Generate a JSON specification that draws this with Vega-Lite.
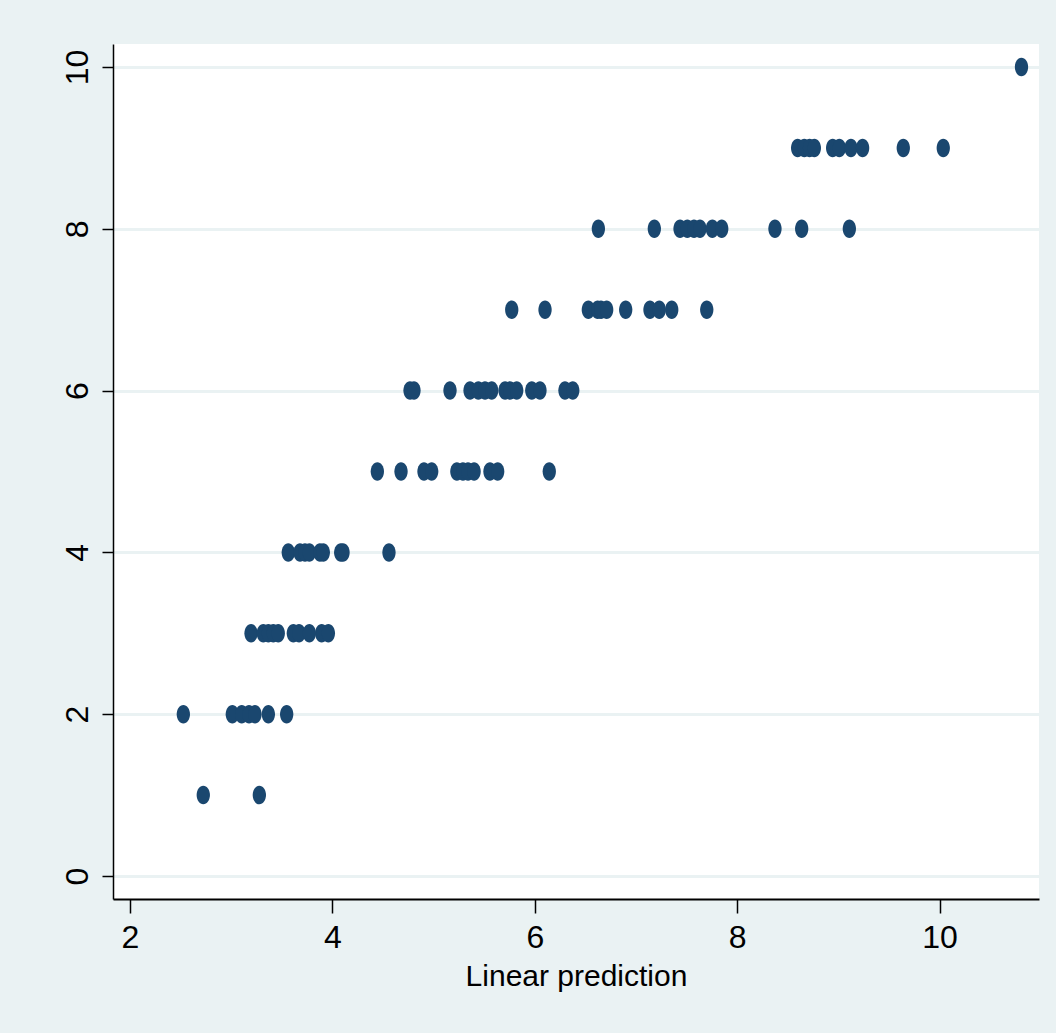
{
  "$schema": "https://vega.github.io/schema/vega-lite/v6.json",
  "autosize": {"type": "none"},
  "width": 926,
  "height": 855,
  "padding": {"left": 113, "top": 44, "right": 17, "bottom": 134},
  "background": "#EAF2F3",
  "config": {
    "view": {"fill": "#FFFFFF", "stroke": null}
  },
  "data": {
    "values": [
      {"x": 2.724, "y": 1}, {"x": 3.278, "y": 1},
      {"x": 2.527, "y": 2}, {"x": 3.011, "y": 2}, {"x": 3.104, "y": 2}, {"x": 3.176, "y": 2}, {"x": 3.235, "y": 2}, {"x": 3.367, "y": 2}, {"x": 3.548, "y": 2},
      {"x": 3.196, "y": 3}, {"x": 3.317, "y": 3}, {"x": 3.367, "y": 3}, {"x": 3.416, "y": 3}, {"x": 3.465, "y": 3}, {"x": 3.614, "y": 3}, {"x": 3.670, "y": 3}, {"x": 3.772, "y": 3}, {"x": 3.894, "y": 3}, {"x": 3.960, "y": 3},
      {"x": 3.564, "y": 4}, {"x": 3.680, "y": 4}, {"x": 3.729, "y": 4}, {"x": 3.772, "y": 4}, {"x": 3.877, "y": 4}, {"x": 3.910, "y": 4}, {"x": 4.082, "y": 4}, {"x": 4.105, "y": 4}, {"x": 4.559, "y": 4},
      {"x": 4.444, "y": 5}, {"x": 4.678, "y": 5}, {"x": 4.905, "y": 5}, {"x": 4.981, "y": 5}, {"x": 5.230, "y": 5}, {"x": 5.290, "y": 5}, {"x": 5.340, "y": 5}, {"x": 5.400, "y": 5}, {"x": 5.557, "y": 5}, {"x": 5.633, "y": 5}, {"x": 6.143, "y": 5},
      {"x": 4.767, "y": 6}, {"x": 4.806, "y": 6}, {"x": 5.162, "y": 6}, {"x": 5.360, "y": 6}, {"x": 5.442, "y": 6}, {"x": 5.508, "y": 6}, {"x": 5.574, "y": 6}, {"x": 5.706, "y": 6}, {"x": 5.755, "y": 6}, {"x": 5.821, "y": 6}, {"x": 5.970, "y": 6}, {"x": 6.051, "y": 6}, {"x": 6.298, "y": 6}, {"x": 6.375, "y": 6},
      {"x": 5.772, "y": 7}, {"x": 6.101, "y": 7}, {"x": 6.529, "y": 7}, {"x": 6.621, "y": 7}, {"x": 6.654, "y": 7}, {"x": 6.710, "y": 7}, {"x": 6.898, "y": 7}, {"x": 7.138, "y": 7}, {"x": 7.230, "y": 7}, {"x": 7.353, "y": 7}, {"x": 7.699, "y": 7},
      {"x": 6.628, "y": 8}, {"x": 7.181, "y": 8}, {"x": 7.435, "y": 8}, {"x": 7.507, "y": 8}, {"x": 7.573, "y": 8}, {"x": 7.632, "y": 8}, {"x": 7.754, "y": 8}, {"x": 7.847, "y": 8}, {"x": 8.373, "y": 8}, {"x": 8.637, "y": 8}, {"x": 9.108, "y": 8},
      {"x": 8.597, "y": 9}, {"x": 8.663, "y": 9}, {"x": 8.715, "y": 9}, {"x": 8.762, "y": 9}, {"x": 8.943, "y": 9}, {"x": 9.009, "y": 9}, {"x": 9.124, "y": 9}, {"x": 9.239, "y": 9}, {"x": 9.641, "y": 9}, {"x": 10.036, "y": 9},
      {"x": 10.809, "y": 10}
    ]
  },
  "mark": {
    "type": "point",
    "filled": true,
    "opacity": 1,
    "color": "#1A476F",
    "size": 342,
    "shape": "M-0.72,0A0.72,1,0,1,0,0.72,0A0.72,1,0,1,0,-0.72,0Z"
  },
  "encoding": {
    "x": {
      "field": "x",
      "type": "quantitative",
      "scale": {"domain": [1.832, 10.982], "nice": false, "zero": false},
      "axis": {
        "title": "Linear prediction",
        "values": [2, 4, 6, 8, 10],
        "grid": false,
        "domainColor": "#000000",
        "domainWidth": 2,
        "tickColor": "#000000",
        "tickWidth": 1.5,
        "tickSize": 14,
        "labelFont": "Liberation Sans, Arial, sans-serif",
        "labelFontSize": 32,
        "labelColor": "#000000",
        "labelPadding": 9,
        "titleFont": "Liberation Sans, Arial, sans-serif",
        "titleFontSize": 30,
        "titleFontWeight": "normal",
        "titleColor": "#000000",
        "titlePadding": 8
      }
    },
    "y": {
      "field": "y",
      "type": "quantitative",
      "scale": {"domain": [-0.284, 10.284], "nice": false, "zero": false},
      "axis": {
        "title": null,
        "values": [0, 2, 4, 6, 8, 10],
        "grid": true,
        "gridColor": "#EAF2F3",
        "gridWidth": 3,
        "domainColor": "#000000",
        "domainWidth": 1.5,
        "tickColor": "#000000",
        "tickWidth": 1.5,
        "tickSize": 11,
        "labelAngle": -90,
        "labelFont": "Liberation Sans, Arial, sans-serif",
        "labelFontSize": 32,
        "labelColor": "#000000",
        "labelPadding": 8
      }
    }
  }
}
